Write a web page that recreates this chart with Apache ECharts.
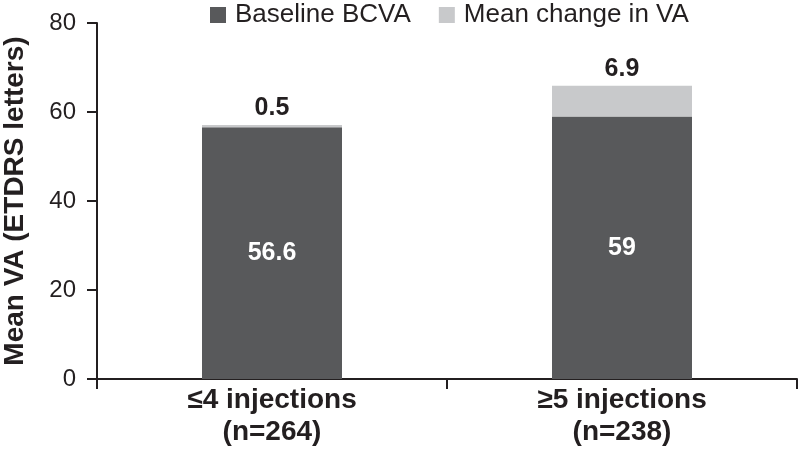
<!DOCTYPE html>
<html>
<head>
    <meta charset="utf-8">
    <title>Mean VA</title>
    <style>
        html, body { margin: 0; padding: 0; background: #fff; }
        #chart { width: 800px; height: 453px; }
    </style>
</head>
<body>
    <div id="chart"></div>
    <script src="https://cdn.jsdelivr.net/npm/echarts@6/dist/echarts.min.js"></script>
    <script type="text/javascript">
        // data
        var categories = ['≤4 injections\n(n=264)', '≥5 injections\n(n=238)'];
        var baseline = [56.6, 59];
        var change = [0.5, 6.9];
        var seriesNames = ['Baseline BCVA', 'Mean change in VA'];

        var txt = '#231f20';
        var font = 'Arial, "Liberation Sans", sans-serif';

        var chart = echarts.init(document.getElementById('chart'));
        var option = {
            animation: false,
            textStyle: { fontFamily: font },
            legend: {
                data: seriesNames,
                top: -3,
                left: 205,
                icon: 'rect',
                itemWidth: 16,
                itemHeight: 16,
                itemGap: 28,
                textStyle: { fontSize: 26, color: txt, fontFamily: font, padding: [0, 0, 0, 4] }
            },
            grid: {
                left: 97, right: 3, top: 23, bottom: 74,
                containLabel: false,
                outerBoundsMode: 'none'
            },
            xAxis: {
                type: 'category',
                data: categories,
                axisLine: { lineStyle: { color: txt, width: 2 } },
                axisTick: { show: true, length: 10, lineStyle: { color: txt, width: 2 } },
                axisLabel: {
                    fontSize: 28, fontWeight: 'bold', color: txt, margin: 5,
                    lineHeight: 32, fontFamily: font
                }
            },
            yAxis: {
                type: 'value',
                min: 0, max: 80, interval: 20,
                name: 'Mean VA (ETDRS letters)',
                nameLocation: 'middle',
                nameGap: 68,
                nameTextStyle: { fontSize: 28, fontWeight: 'bold', color: txt, fontFamily: font },
                axisLine: { show: true, lineStyle: { color: txt, width: 2 } },
                axisTick: { show: true, length: 10, lineStyle: { color: txt, width: 2 } },
                axisLabel: { fontSize: 24, color: txt, margin: 21, fontFamily: font },
                splitLine: { show: false }
            },
            series: [
                {
                    name: seriesNames[0],
                    type: 'bar',
                    stack: 'va',
                    barWidth: 140,
                    data: baseline,
                    itemStyle: { color: '#58595b' },
                    label: {
                        show: true, position: 'inside', color: '#fff',
                        fontSize: 25, fontWeight: 'bold', fontFamily: font
                    }
                },
                {
                    name: seriesNames[1],
                    type: 'bar',
                    stack: 'va',
                    barWidth: 140,
                    data: change,
                    itemStyle: { color: '#c8c9cb' },
                    label: {
                        show: true, position: 'top', color: txt, distance: 4,
                        fontSize: 25, fontWeight: 'bold', fontFamily: font
                    }
                }
            ]
        };
        chart.setOption(option);
    </script>
</body>
</html>
